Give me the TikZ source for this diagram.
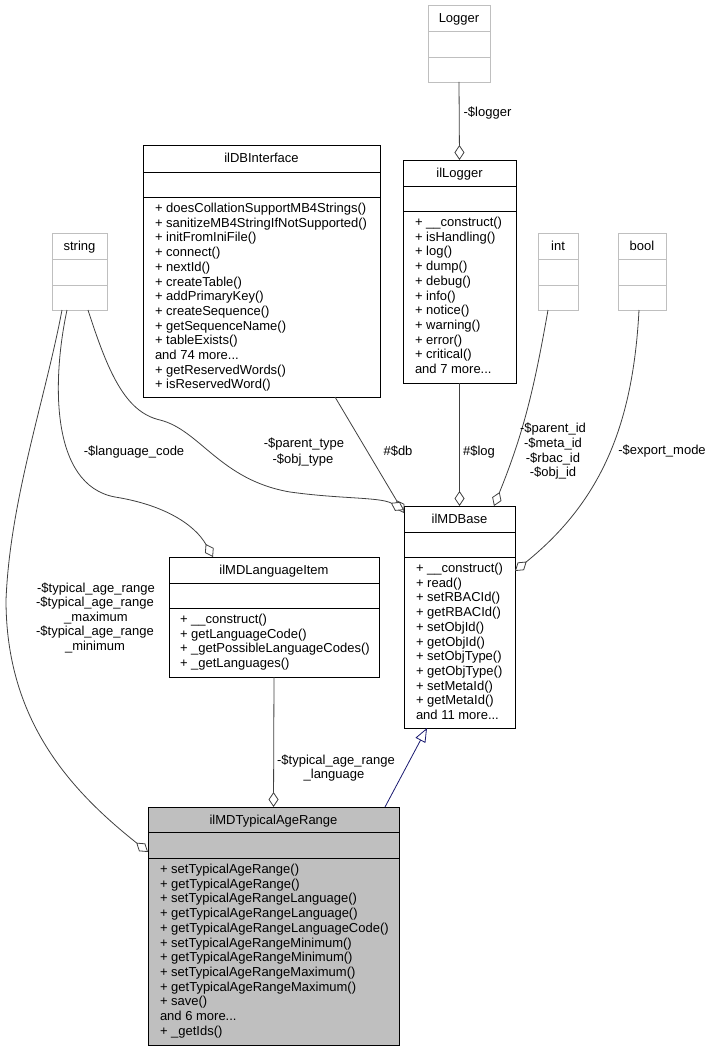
\documentclass[tikz,border=0pt]{standalone}
\usepackage{fontspec}
\setmainfont{Liberation Sans}
\usetikzlibrary{arrows.meta}
\definecolor{edgegray}{HTML}{404040}
\definecolor{boxgray}{HTML}{BFBFBF}
\definecolor{inhblue}{HTML}{191970}
\tikzset{
  lbl/.style={font=\fontsize{13.0}{14.7}\selectfont, inner sep=0pt, outer sep=0pt},
  plainbox/.style={draw=black, fill=white, line width=0.9pt, inner sep=0pt, outer sep=0pt},
  plainbox line/.style={draw=black, line width=0.9pt},
  graybox/.style={draw=boxgray, fill=white, line width=0.9pt, inner sep=0pt, outer sep=0pt},
  graybox line/.style={draw=boxgray, line width=0.9pt},
  typbox/.style={draw=black, fill=boxgray, line width=0.9pt, inner sep=0pt, outer sep=0pt},
  typbox line/.style={draw=black, line width=0.9pt},
  agg/.style={draw=edgegray, line width=0.8pt, -{Diamond[fill=white, length=15pt, width=10pt]}},
  inh/.style={draw=inhblue, line width=0.8pt, -{Triangle[fill=white, length=14pt, width=11pt]}},
}
% #1 style, #2 name, #3 x1, #4 x2, #5 top, #6 sep1, #7 sep2, #8 bottom, #9 title
\newcommand\umlclass[9]{%
  \node[#1, anchor=north west, minimum width={(#4-#3)*1pt}, minimum height={(#8-#5)*1pt}] (#2) at (#3,#5) {};
  \draw[#1 line] (#3,#6) -- (#4,#6) (#3,#7) -- (#4,#7);
  \node[lbl, anchor=base] (#2-title) at ({(#3+#4)/2},{(#5+#6)/2+4.5}) {#9};
}
% #1 name, #2 x, #3 first baseline, #4 list
\newcommand\umlmethods[4]{%
  \foreach \m [count=\i] in {#4} {
    \node[lbl, anchor=base west] (#1-m\i) at ({#2},{#3+(\i-1)*14.7}) {\m};
  }
}
% #1 name, #2 x, #3 y centre, #4 text
\newcommand\elabel[4]{%
  \node[lbl, anchor=base] (#1) at ({#2},{#3+4}) {#4};
}
\newcommand\dotsx{.{}.{}.}
\begin{document}
\begin{tikzpicture}[x=1pt, y=-1pt]
\useasboundingbox (0,0) rectangle (712,1051);

% classes
\umlclass{graybox}{Logger}{428}{490}{5}{31}{57}{82}{Logger}
\umlclass{plainbox}{ilLogger}{403}{516}{160}{186}{211}{383}{ilLogger}
\umlmethods{ilLogger}{415}{226.5}{+ \_\_construct(), + isHandling(), + log(), + dump(), + debug(), + info(), + notice(), + warning(), + error(), + critical(), and 7 more\dotsx}

\umlclass{plainbox}{ilDBInterface}{143}{380}{145}{172}{197}{397}{ilDBInterface}
\umlmethods{ilDBInterface}{155}{212.5}{+ doesCollationSupportMB4Strings(), + sanitizeMB4StringIfNotSupported(), + initFromIniFile(), + connect(), + nextId(), + createTable(), + addPrimaryKey(), + createSequence(), + getSequenceName(), + tableExists(), and 74 more\dotsx, + getReservedWords(), + isReservedWord()}

\umlclass{graybox}{string}{52}{107}{233}{259}{285}{310}{string}
\umlclass{graybox}{int}{538}{578}{233}{259}{285}{310}{int}
\umlclass{graybox}{bool}{618}{666}{233}{259}{285}{310}{bool}

\umlclass{plainbox}{ilMDBase}{404}{515}{506}{532}{557}{728}{ilMDBase}
\umlmethods{ilMDBase}{416}{572.5}{+ \_\_construct(), + read(), + setRBACId(), + getRBACId(), + setObjId(), + getObjId(), + setObjType(), + getObjType(), + setMetaId(), + getMetaId(), and 11 more\dotsx}

\umlclass{plainbox}{ilMDLanguageItem}{169}{379}{557}{583}{608}{677}{ilMDLanguageItem}
\umlmethods{ilMDLanguageItem}{180}{623.5}{+ \_\_construct(), + getLanguageCode(), + \_getPossibleLanguageCodes(), + \_getLanguages()}

\umlclass{typbox}{ilMDTypicalAgeRange}{148}{399}{807}{832}{858}{1045}{ilMDTypicalAgeRange}
\umlmethods{ilMDTypicalAgeRange}{160}{873.5}{+ setTypicalAgeRange(), + getTypicalAgeRange(), + setTypicalAgeRangeLanguage(), + getTypicalAgeRangeLanguage(), + getTypicalAgeRangeLanguageCode(), + setTypicalAgeRangeMinimum(), + getTypicalAgeRangeMinimum(), + setTypicalAgeRangeMaximum(), + getTypicalAgeRangeMaximum(), + save(), and 6 more\dotsx, + \_getIds()}

% connectors
\draw[agg] (Logger.south) -- (ilLogger.north);
\draw[agg] ([xshift=73.5pt]ilDBInterface.south) -- ([yshift=-7pt]ilMDBase.north west);
\draw[agg] (ilLogger.south) -- (ilMDBase.north);
\draw[agg] ([xshift=-10pt]int.south) to[out=-100, in=68] ([xshift=34.5pt]ilMDBase.north);
\draw[agg] ([xshift=-3pt]bool.south) to[out=-93, in=39] ([yshift=-65pt]ilMDBase.north east);
\draw[agg] ([xshift=8.5pt]string.south) .. controls (108,372) and (125,412) .. (160,420)
  .. controls (200,430) and (220,480) .. (290,492)
  .. controls (340,499) and (380,497) .. ([yshift=-4pt]ilMDBase.north west);
\draw[agg] ([xshift=-12.5pt]string.south) .. controls (52,380) and (50,485) .. (115,497)
  .. controls (165,505) and (195,525) .. ([xshift=-61pt]ilMDLanguageItem.north);
\draw[agg] ([xshift=-17.5pt]string.south) .. controls (45,400) and (10,500) .. (6,600)
  .. controls (6,720) and (70,790) .. ([yshift=-45pt]ilMDTypicalAgeRange.north west);
\draw[agg] (ilMDLanguageItem.south) -- (ilMDTypicalAgeRange.north);
\draw[inh] ([xshift=-14pt]ilMDTypicalAgeRange.north east) -- ([xshift=-32.5pt]ilMDBase.south);

% connector labels
\elabel{l-logger}{487.5}{113}{-\$logger}
\elabel{l-db}{398}{451}{\#\$db}
\elabel{l-log}{479}{451}{\#\$log}
\elabel{l-int1}{553}{428}{-\$parent\_id}
\elabel{l-int2}{553}{443}{-\$meta\_id}
\elabel{l-int3}{553}{458}{-\$rbac\_id}
\elabel{l-int4}{553}{472}{-\$obj\_id}
\elabel{l-export}{662}{450}{-\$export\_mode}
\elabel{l-ptype1}{304}{443}{-\$parent\_type}
\elabel{l-ptype2}{303}{459}{-\$obj\_type}
\elabel{l-lang}{134}{451}{-\$language\_code}
\elabel{l-tar1}{96}{588}{-\$typical\_age\_range}
\elabel{l-tar2}{95}{602.5}{-\$typical\_age\_range}
\elabel{l-tar3}{96}{617}{\_maximum}
\elabel{l-tar4}{95}{631.5}{-\$typical\_age\_range}
\elabel{l-tar5}{95}{646}{\_minimum}
\elabel{l-tal1}{336}{760}{-\$typical\_age\_range}
\elabel{l-tal2}{334}{774}{\_language}
\end{tikzpicture}
\end{document}
